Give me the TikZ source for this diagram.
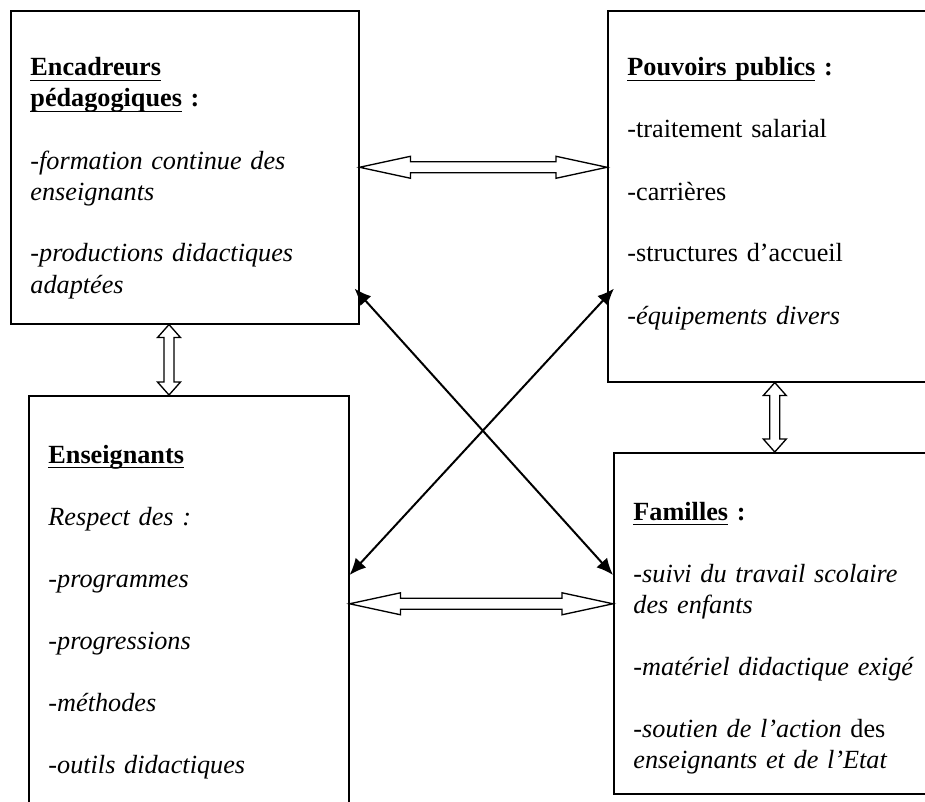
\documentclass[tikz,border=0pt]{standalone}
\usepackage{fontspec}
\setmainfont{Liberation Serif}
\usetikzlibrary{calc,arrows.meta}

\newcommand{\unitpx}{0.45pt}
\newcommand{\head}[1]{\leavevmode\setbox0\hbox{\textbf{#1}}\rlap{\rule[-2.2pt]{\wd0}{0.6pt}}\box0\relax}
\newcommand{\gap}{\\[\baselineskip]}

\tikzset{
  box/.style={draw, line width=0.7pt, inner sep=0pt, anchor=north west},
  boxtext/.style={anchor=base west, inner sep=0pt, text width=300pt, align=left,
    font=\fontsize{11.8pt}{13.95pt}\selectfont},
  hollow/.style={draw, fill=white, line width=0.6pt, line join=miter},
  cross/.style={{Latex[length=7.5pt,width=6.5pt]}-{Latex[length=7.5pt,width=6.5pt]}, line width=0.9pt}
}

% hollow double arrows, #1 and #2 are the two tips
\newcommand{\hollowH}[2]{%
  \draw[hollow] (#1) -- ++(51,-11) -- ++(0,5.5) -- ($(#2)+(-51,-5.5)$) -- ++(0,-5.5) -- (#2)
    -- ++(-51,11) -- ++(0,-5.5) -- ($(#1)+(51,5.5)$) -- ++(0,5.5) -- cycle;}
\newcommand{\hollowV}[2]{%
  \draw[hollow] (#1) -- ++(11.5,13) -- ++(-6.5,0) -- ($(#2)+(5,-13)$) -- ++(6.5,0) -- (#2)
    -- ++(-11.5,-13) -- ++(6.5,0) -- ($(#1)+(-5,13)$) -- ++(-6.5,0) -- cycle;}

\begin{document}
\begin{tikzpicture}[x=\unitpx,y=-\unitpx]
  \useasboundingbox (0,0) rectangle (925,801);
  \clip (0,0) rectangle (925,801);

  \node[box, minimum width=348*\unitpx, minimum height=313*\unitpx] (enc) at (10,10) {};
  \node[box, minimum width=334*\unitpx, minimum height=371*\unitpx] (pouv) at (607,10) {};
  \node[box, minimum width=320*\unitpx, minimum height=416*\unitpx] (ens) at (28,395) {};
  \node[box, minimum width=322*\unitpx, minimum height=341*\unitpx] (fam) at (613,452) {};

  \node[boxtext] (enc text) at ($(enc.north west)+(20,66)$) {%
    \head{Encadreurs}\\ \head{pédagogiques} \textbf{:}\gap
    \textit{-formation continue des}\\ \textit{enseignants}\gap
    \textit{-productions didactiques}\\ \textit{adaptées}};
  \node[boxtext] (pouv text) at ($(pouv.north west)+(20,66)$) {%
    \head{Pouvoirs publics} \textbf{:}\gap
    -traitement salarial\gap
    -carrières\gap
    -structures d’accueil\gap
    \textit{-équipements divers}};
  \node[boxtext] (ens text) at ($(ens.north west)+(20,68)$) {%
    \head{Enseignants}\gap
    \textit{Respect des :}\gap
    \textit{-programmes}\gap
    \textit{-progressions}\gap
    \textit{-méthodes}\gap
    \textit{-outils didactiques}};
  \node[boxtext] (fam text) at ($(fam.north west)+(20,68)$) {%
    \head{Familles} \textbf{:}\gap
    \textit{-suivi du travail scolaire}\\ \textit{des enfants}\gap
    \textit{-matériel didactique exigé}\gap
    \textit{-soutien de l’action} des\\ \textit{enseignants et de l’Etat}};

  \coordinate (ta) at (enc.east);
  \coordinate (tb) at (pouv.west |- enc.east);
  \coordinate (ba) at (ens.east);
  \coordinate (bb) at (fam.west |- ens.east);
  \coordinate (la) at ($(enc.south west)+(159,0)$);
  \coordinate (lb) at (la |- ens.north);
  \coordinate (ra) at (pouv.south);
  \coordinate (rb) at (fam.north);
  \hollowH{ta}{tb}
  \hollowH{ba}{bb}
  \hollowV{la}{lb}
  \hollowV{ra}{rb}

  \draw[cross] ($(enc.south east)+(-5,-36)$) -- ($(fam.north west)+(0,123)$);
  \draw[cross] ($(pouv.south west)+(7,-94)$) -- ($(ens.north east)+(0,180)$);
\end{tikzpicture}
\end{document}
